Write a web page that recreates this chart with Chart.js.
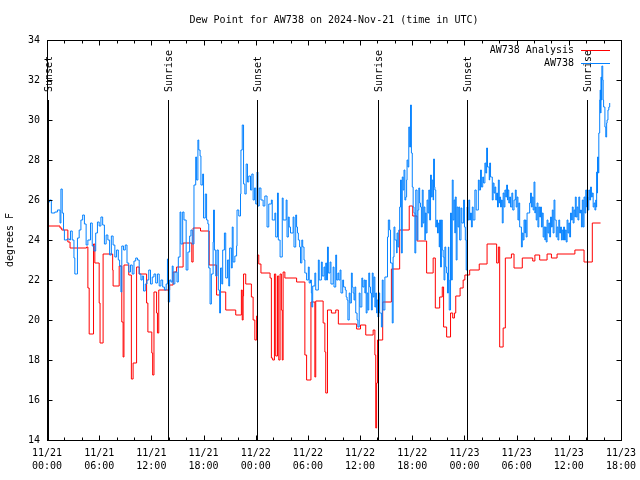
<!DOCTYPE html>
<html>
<head>
<meta charset="utf-8">
<title>Dew Point for AW738</title>
<script src="https://cdn.jsdelivr.net/npm/chart.js@4/dist/chart.umd.min.js"></script>
<style>
  html, body { margin: 0; padding: 0; background: #fff; }
</style>
</head>
<body>
<canvas id="dewChart" width="640" height="480"></canvas>
<script>
// hours since 11/21 00:00 UTC
const obsHours = [
  0.0, 0.1, 0.3, 0.5, 0.9, 1.2, 1.5, 1.6, 1.75, 1.9, 2.0, 2.3, 2.6, 2.7, 2.9, 3.1, 3.2, 3.4, 3.5, 3.7,
  3.9, 4.1, 4.3, 4.5, 4.7, 5.0, 5.2, 5.4, 5.6, 5.8, 6.0, 6.2, 6.4, 6.6, 6.8, 7.0, 7.2, 7.4, 7.6, 7.8,
  8.0, 8.2, 8.35, 8.5, 8.6, 8.8, 9.0, 9.2, 9.4, 9.6, 9.8, 10.0, 10.2, 10.4, 10.6, 10.8, 10.95, 11.1, 11.3, 11.5,
  11.7, 11.9, 12.1, 12.3, 12.5, 12.7, 12.9, 13.1, 13.3, 13.5, 13.7, 13.85, 13.95, 14.1, 14.25, 14.4, 14.5, 14.7, 14.95, 15.1,
  15.3, 15.4, 15.6, 15.75, 16.0, 16.2, 16.4, 16.55, 16.7, 16.9, 17.1, 17.2, 17.35, 17.45, 17.6, 17.7, 17.9, 18.0, 18.2, 18.35,
  18.5, 18.6, 18.75, 18.9, 19.1, 19.15, 19.25, 19.4, 19.55, 19.7, 19.85, 19.95, 20.1, 20.2, 20.4, 20.55, 20.75, 20.9, 21.0, 21.2,
  21.3, 21.4, 21.6, 21.8, 21.85, 22.05, 22.25, 22.3, 22.45, 22.6, 22.75, 22.9, 23.05, 23.2, 23.4, 23.55, 23.7, 23.85, 24.0, 24.15,
  24.25, 24.4, 24.6, 24.85, 25.05, 25.3, 25.5, 25.8, 25.9, 26.2, 26.3, 26.5, 26.6, 26.8, 27.05, 27.15, 27.5, 27.6, 27.75, 27.85,
  28.0, 28.3, 28.4, 28.6, 28.7, 28.8, 28.9, 29.05, 29.15, 29.3, 29.4, 29.55, 29.65, 29.75, 29.85, 30.05, 30.15, 30.3, 30.4, 30.45,
  30.55, 30.8, 30.9, 31.2, 31.3, 31.55, 31.65, 31.85, 31.95, 32.05, 32.15, 32.25, 32.35, 32.55, 32.65, 32.9, 33.0, 33.2, 33.3, 33.45,
  33.55, 33.7, 33.8, 34.0, 34.1, 34.3, 34.4, 34.5, 34.6, 34.75, 34.85, 35.0, 35.1, 35.2, 35.3, 35.4, 35.5, 35.65, 35.75, 35.9,
  36.0, 36.2, 36.3, 36.45, 36.55, 36.65, 36.7, 36.8, 36.9, 37.0, 37.1, 37.2, 37.3, 37.4, 37.5, 37.6, 37.7, 37.8, 37.9, 37.95,
  38.05, 38.15, 38.25, 38.35, 38.45, 38.55, 38.65, 38.85, 39.15, 39.25, 39.4, 39.5, 39.7, 39.8, 39.9, 40.0, 40.1, 40.2, 40.25, 40.35,
  40.45, 40.55, 40.65, 40.75, 40.85, 40.95, 41.05, 41.15, 41.25, 41.35, 41.4, 41.5, 41.6, 41.7, 41.8, 41.9, 42.0, 42.1, 42.2, 42.3,
  42.4, 42.55, 42.65, 42.75, 42.85, 42.95, 43.05, 43.15, 43.25, 43.35, 43.45, 43.5, 43.6, 43.7, 43.8, 43.9, 44.0, 44.1, 44.2, 44.3,
  44.4, 44.45, 44.55, 44.6, 44.7, 44.8, 44.9, 45.0, 45.1, 45.15, 45.25, 45.35, 45.45, 45.55, 45.65, 45.75, 45.85, 45.95, 46.05, 46.15,
  46.2, 46.25, 46.4, 46.5, 46.6, 46.7, 46.8, 46.9, 46.95, 47.05, 47.15, 47.25, 47.35, 47.45, 47.6, 47.7, 47.9, 48.0, 48.1, 48.2,
  48.3, 48.4, 48.5, 48.6, 48.7, 48.8, 48.9, 49.0, 49.2, 49.35, 49.6, 49.7, 49.85, 49.95, 50.1, 50.2, 50.35, 50.45, 50.55, 50.65,
  50.75, 50.85, 50.9, 51.0, 51.1, 51.2, 51.3, 51.4, 51.5, 51.6, 51.7, 51.8, 51.9, 52.0, 52.05, 52.15, 52.25, 52.35, 52.45, 52.55,
  52.65, 52.75, 52.85, 52.95, 53.0, 53.1, 53.2, 53.3, 53.45, 53.55, 53.7, 53.85, 53.95, 54.05, 54.15, 54.25, 54.35, 54.45, 54.55, 54.65,
  54.75, 54.85, 54.95, 55.0, 55.1, 55.2, 55.4, 55.5, 55.6, 55.7, 55.8, 55.9, 56.0, 56.1, 56.15, 56.25, 56.35, 56.45, 56.55, 56.65,
  56.75, 56.85, 56.95, 57.05, 57.15, 57.25, 57.3, 57.4, 57.5, 57.6, 57.7, 57.8, 57.9, 58.0, 58.1, 58.2, 58.3, 58.4, 58.45, 58.55,
  58.65, 58.75, 58.85, 58.95, 59.05, 59.15, 59.25, 59.35, 59.4, 59.5, 59.6, 59.7, 59.8, 59.9, 60.0, 60.1, 60.2, 60.3, 60.4, 60.5,
  60.6, 60.7, 60.75, 60.85, 60.95, 61.05, 61.15, 61.25, 61.35, 61.45, 61.55, 61.65, 61.75, 61.85, 61.95, 62.05, 62.1, 62.2, 62.3, 62.4,
  62.5, 62.6, 62.7, 62.8, 62.9, 63.0, 63.1, 63.15, 63.2, 63.25, 63.3, 63.4, 63.45, 63.55, 63.6, 63.65, 63.7, 63.75, 63.8, 63.9,
  63.95, 64.0, 64.05, 64.15, 64.25, 64.35, 64.4, 64.5, 64.6, 64.7
];
const obsDewPoint = [
  25.2, 25.9, 26.0, 25.35, 25.4, 25.5, 24.85, 26.55, 25.35, 24.5, 24.0, 24.05, 24.0, 24.45, 24.0, 23.1, 22.3, 22.3, 24.1, 24.5,
  25.0, 25.25, 24.8, 23.75, 24.0, 24.85, 23.7, 23.45, 24.35, 24.9, 24.7, 25.15, 24.75, 23.8, 24.25, 24.0, 23.25, 24.2, 23.75, 23.15,
  23.5, 23.0, 22.7, 21.4, 23.7, 23.5, 23.75, 22.85, 22.4, 22.75, 22.3, 22.95, 23.1, 23.0, 22.3, 22.0, 22.2, 21.45, 21.8, 22.0,
  22.5, 21.8, 22.15, 22.3, 21.85, 22.3, 21.7, 22.0, 21.65, 21.5, 21.8, 23.05, 20.9, 22.0, 21.9, 22.7, 21.8, 22.4, 21.9, 23.15,
  25.4, 23.8, 25.4, 25.0, 22.5, 23.4, 24.2, 24.5, 23.8, 26.75, 28.15, 27.0, 29.0, 28.5, 28.2, 26.75, 27.3, 25.1, 26.3, 25.0,
  24.8, 22.6, 20.8, 22.3, 23.9, 25.5, 23.5, 22.2, 23.5, 21.5, 20.35, 22.6, 21.8, 23.5, 24.35, 22.1, 23.0, 21.7, 23.6, 22.6,
  24.65, 22.9, 23.2, 23.7, 25.5, 25.2, 26.3, 28.5, 29.75, 26.8, 26.3, 27.8, 26.9, 27.2, 26.5, 27.3, 26.0, 26.6, 25.8, 27.4,
  25.7, 26.6, 26.0, 25.7, 26.2, 24.65, 25.8, 26.0, 25.0, 25.35, 24.15, 26.35, 24.0, 23.15, 26.1, 25.0, 26.0, 24.15, 25.15, 24.65,
  24.35, 25.15, 23.65, 25.25, 24.65, 24.35, 24.0, 23.65, 22.85, 24.0, 23.65, 23.0, 22.35, 22.35, 22.0, 22.65, 21.85, 22.0, 21.35, 20.65,
  21.7, 22.35, 21.5, 23.0, 22.0, 22.9, 22.2, 22.65, 22.0, 22.85, 22.0, 23.65, 22.35, 22.9, 21.8, 22.65, 21.65, 23.25, 22.0, 22.35,
  22.0, 22.5, 21.35, 22.0, 21.65, 21.5, 21.15, 21.0, 20.0, 21.35, 20.85, 22.35, 21.65, 21.35, 21.0, 21.65, 20.35, 20.0, 19.65, 21.35,
  20.65, 22.1, 21.65, 22.0, 21.35, 22.0, 20.35, 21.35, 20.5, 22.35, 21.65, 21.35, 20.5, 22.35, 21.15, 22.15, 20.65, 21.35, 20.35, 21.0,
  20.15, 21.35, 20.35, 20.35, 19.65, 22.0, 20.5, 22.15, 24.15, 25.0, 24.5, 22.85, 19.85, 23.15, 24.65, 24.0, 24.0, 23.35, 24.35, 23.65,
  24.5, 25.65, 27.0, 23.35, 27.15, 26.5, 27.5, 26.0, 26.15, 27.0, 28.0, 27.65, 29.65, 28.65, 30.75, 28.35, 26.65, 25.65, 25.35, 23.35,
  26.5, 24.0, 25.5, 26.6, 25.85, 25.65, 24.65, 26.5, 24.85, 25.65, 24.0, 25.35, 24.35, 26.0, 25.35, 26.5, 25.0, 27.25, 26.15, 27.0,
  26.0, 28.05, 26.65, 26.5, 24.65, 25.0, 24.35, 24.85, 23.65, 25.0, 22.65, 25.0, 23.5, 23.15, 22.0, 23.65, 22.65, 22.35, 21.35, 23.65,
  22.0, 20.5, 25.35, 22.0, 27.0, 25.0, 26.0, 24.35, 26.15, 23.0, 25.65, 24.65, 25.65, 24.0, 25.6, 24.85, 26.0, 24.65, 24.0, 22.5,
  25.65, 25.0, 26.0, 25.0, 25.35, 24.65, 25.65, 25.0, 26.5, 25.5, 27.0, 26.5, 27.5, 26.65, 27.15, 26.85, 27.85, 27.35, 28.6, 27.65,
  27.65, 27.0, 27.85, 27.15, 27.15, 26.0, 26.85, 26.35, 26.65, 26.0, 26.35, 25.65, 27.0, 25.85, 26.15, 25.65, 26.0, 24.85, 26.35, 25.65,
  26.5, 26.15, 26.75, 26.0, 26.5, 25.85, 26.15, 25.65, 26.35, 25.5, 26.0, 26.5, 25.65, 26.15, 25.0, 25.85, 24.65, 24.65, 23.65, 24.35,
  24.0, 25.0, 24.35, 25.0, 24.15, 25.35, 25.35, 25.85, 26.35, 25.65, 26.15, 25.5, 26.9, 25.35, 25.65, 25.0, 25.85, 24.65, 25.65, 25.15,
  25.65, 24.65, 25.35, 24.15, 24.65, 24.0, 24.65, 23.9, 25.0, 24.35, 24.85, 24.15, 25.15, 24.65, 25.5, 24.35, 26.0, 25.0, 25.0, 24.15,
  24.65, 24.0, 25.0, 24.35, 24.65, 24.0, 24.5, 24.0, 24.65, 24.0, 24.5, 23.9, 25.0, 24.35, 24.85, 24.15, 25.35, 25.0, 25.65, 24.85,
  25.5, 25.15, 26.15, 25.15, 25.65, 25.0, 26.15, 25.35, 25.5, 24.65, 26.0, 24.65, 26.15, 25.35, 26.5, 25.65, 26.15, 25.5, 26.5, 26.0,
  26.65, 26.15, 26.35, 25.65, 25.85, 25.5, 26.0, 25.65, 27.4, 26.35, 28.15, 27.35, 29.35, 31.0, 31.5, 30.35, 32.15, 31.0, 32.7, 32.0,
  31.0, 30.65, 30.65, 29.65, 29.15, 29.85, 30.0, 30.5, 30.65, 30.85
];

// analysis: each value holds until the next time
const anaHours = [
  0.0, 0.05, 1.5, 1.7, 2.4, 2.65, 4.55, 4.7, 4.85, 5.35, 5.5, 6.0, 6.1, 6.45, 7.55, 7.6, 8.3, 8.6, 8.75, 8.85,
  9.4, 9.7, 9.9, 10.3, 10.6, 11.45, 11.6, 12.05, 12.15, 12.3, 12.6, 12.7, 12.85, 14.1, 14.5, 14.9, 15.65, 16.65, 16.8, 17.65,
  18.65, 19.5, 19.9, 20.55, 21.7, 22.35, 22.45, 22.55, 22.6, 22.85, 23.5, 23.7, 23.9, 24.1, 24.2, 24.35, 24.6, 25.65, 25.8, 25.95,
  26.15, 26.3, 26.5, 26.65, 26.8, 26.95, 27.05, 27.15, 27.35, 28.7, 29.65, 29.85, 30.35, 30.8, 30.9, 31.75, 31.95, 32.05, 32.25, 32.7,
  33.2, 33.5, 35.6, 36.05, 36.65, 37.5, 37.7, 37.8, 37.9, 38.0, 38.6, 39.6, 40.55, 41.65, 42.05, 42.55, 43.65, 44.4, 44.65, 45.15,
  45.45, 45.6, 45.95, 46.4, 46.65, 46.85, 47.0, 47.5, 47.85, 48.05, 48.6, 49.7, 50.6, 51.7, 51.9, 52.05, 52.45, 52.7, 53.4, 53.7,
  54.65, 55.85, 56.1, 56.65, 57.5, 58.0, 58.65, 60.7, 61.75, 62.7, 63.65
];
const anaDewPoint = [
  19.9, 24.7, 24.6, 24.5, 23.9, 23.6, 23.65, 21.6, 19.3, 23.8, 22.85, 20.85, 18.85, 23.3, 22.5, 21.7, 22.7, 19.9, 18.15, 22.75,
  22.25, 17.05, 17.85, 22.65, 22.3, 20.85, 19.4, 18.35, 17.25, 21.4, 20.35, 19.35, 21.5, 21.75, 22.4, 22.65, 23.85, 22.9, 24.6, 24.45,
  22.75, 21.25, 21.4, 20.5, 20.25, 21.5, 20.0, 21.2, 22.3, 21.8, 21.15, 20.0, 19.0, 20.2, 23.25, 22.8, 22.35, 22.1, 18.1, 18.0,
  22.3, 18.2, 22.2, 18.0, 22.3, 20.5, 18.0, 22.4, 22.1, 21.9, 18.25, 17.0, 20.9, 17.15, 20.95, 19.85, 18.4, 16.35, 20.5, 20.35,
  20.5, 19.8, 19.55, 19.75, 19.25, 19.5, 18.25, 14.6, 16.85, 19.0, 20.9, 22.55, 24.5, 25.7, 25.2, 23.95, 22.35, 23.1, 20.6, 21.15,
  21.65, 19.65, 19.15, 20.35, 20.1, 20.35, 21.2, 21.6, 22.0, 22.25, 22.5, 22.8, 23.8, 22.85, 23.65, 18.65, 19.6, 23.1, 23.3, 22.6,
  23.1, 22.95, 23.25, 23.0, 23.3, 23.1, 23.3, 23.5, 22.9, 24.85, 24.85
];

const sunHours = [0.15, 13.97, 24.17, 38.08, 48.24, 62.1];
const sunLabels = ['Sunset', 'Sunrise', 'Sunset', 'Sunrise', 'Sunset', 'Sunrise'];
const sunLineTop = 31;

const timeLabels = [
  ['11/21', '00:00'], ['11/21', '06:00'], ['11/21', '12:00'], ['11/21', '18:00'],
  ['11/22', '00:00'], ['11/22', '06:00'], ['11/22', '12:00'], ['11/22', '18:00'],
  ['11/23', '00:00'], ['11/23', '06:00'], ['11/23', '12:00'], ['11/23', '18:00']
];

const seriesNames = ['AW738 Analysis', 'AW738'];
const seriesColors = ['#ff0000', '#0582ff'];
const chartTitle = 'Dew Point for AW738 on 2024-Nov-21 (time in UTC)';
const yTitle = 'degrees F';

const FONT = '10px "DejaVu Sans Mono", "Liberation Mono", monospace';
Chart.defaults.font.family = '"DejaVu Sans Mono", "Liberation Mono", monospace';
Chart.defaults.font.size = 10;
Chart.defaults.color = '#000';

const gnuFrame = {
  id: 'gnuFrame',
  afterDatasetsDraw(chart) {
    const { ctx, chartArea: a, scales: { x, y } } = chart;
    ctx.save();
    ctx.strokeStyle = '#000';
    ctx.fillStyle = '#000';
    ctx.lineWidth = 1;
    ctx.font = FONT;

    // sunrise / sunset markers
    const topPx = y.getPixelForValue(sunLineTop);
    sunHours.forEach((h, i) => {
      const px = Math.round(x.getPixelForValue(h)) + 0.5;
      ctx.beginPath();
      ctx.moveTo(px, topPx);
      ctx.lineTo(px, a.bottom);
      ctx.stroke();
      ctx.save();
      ctx.translate(px + 1, topPx - 8);
      ctx.rotate(-Math.PI / 2);
      ctx.textAlign = 'left';
      ctx.textBaseline = 'middle';
      ctx.fillText(sunLabels[i], 0, 0);
      ctx.restore();
    });

    // border
    const L = Math.round(a.left) + 0.5, R = Math.round(a.right) + 0.5;
    const T = Math.round(a.top) + 0.5, B = Math.round(a.bottom) + 0.5;
    ctx.strokeRect(L, T, R - L, B - T);

    // ticks, pointing inward
    ctx.beginPath();
    for (let v = y.min; v <= y.max; v += 2) {
      const py = Math.round(y.getPixelForValue(v)) + 0.5;
      ctx.moveTo(L, py); ctx.lineTo(L + 5, py);
      ctx.moveTo(R, py); ctx.lineTo(R - 5, py);
    }
    for (let h = x.min; h <= x.max; h += 2) {
      const px = Math.round(x.getPixelForValue(h)) + 0.5;
      const len = h % 6 === 0 ? 5 : 3;
      ctx.moveTo(px, B); ctx.lineTo(px, B - len);
      ctx.moveTo(px, T); ctx.lineTo(px, T + len);
    }
    ctx.stroke();

    // legend
    ctx.textAlign = 'right';
    ctx.textBaseline = 'middle';
    seriesNames.forEach((name, i) => {
      const ly = Math.round(a.top + 10 + i * 13) + 0.5;
      ctx.fillStyle = '#000';
      ctx.fillText(name, a.right - 47, ly);
      ctx.strokeStyle = seriesColors[i];
      ctx.beginPath();
      ctx.moveTo(a.right - 40, ly);
      ctx.lineTo(a.right - 11, ly);
      ctx.stroke();
    });

    // title and y label
    ctx.fillStyle = '#000';
    ctx.textAlign = 'center';
    ctx.fillText(chartTitle, (a.left + a.right) / 2, 20);
    ctx.save();
    ctx.translate(10, (a.top + a.bottom) / 2);
    ctx.rotate(-Math.PI / 2);
    ctx.fillText(yTitle, 0, 0);
    ctx.restore();

    ctx.restore();
  }
};

const ctx = document.getElementById('dewChart').getContext('2d');
new Chart(ctx, {
  type: 'line',
  data: {
    datasets: [
      {
        label: seriesNames[1],
        data: obsHours.map((h, i) => ({ x: h, y: obsDewPoint[i] })),
        borderColor: seriesColors[1],
        borderWidth: 1,
        pointRadius: 0,
        stepped: true,
        fill: false
      },
      {
        label: seriesNames[0],
        data: anaHours.map((h, i) => ({ x: h, y: anaDewPoint[i] })),
        borderColor: seriesColors[0],
        borderWidth: 1,
        pointRadius: 0,
        stepped: true,
        fill: false
      }
    ]
  },
  options: {
    responsive: false,
    animation: false,
    devicePixelRatio: 1,
    layout: { padding: { left: 0, top: 40, right: 19, bottom: 0 } },
    plugins: {
      legend: { display: false },
      title: { display: false },
      tooltip: { enabled: false }
    },
    scales: {
      x: {
        type: 'linear',
        min: 0,
        max: 66,
        grid: { display: false, drawTicks: false },
        border: { display: false },
        ticks: {
          stepSize: 6,
          autoSkip: false,
          maxRotation: 0,
          padding: 7,
          font: { lineHeight: 1.3 },
          callback: v => timeLabels[Math.round(v / 6)]
        },
        afterFit: s => { s.height = 40; s.paddingLeft = 0; s.paddingRight = 0; }
      },
      y: {
        min: 14,
        max: 34,
        grid: { display: false, drawTicks: false },
        border: { display: false },
        ticks: { stepSize: 2, padding: 7 },
        afterFit: s => { s.width = 47; s.paddingTop = 0; s.paddingBottom = 0; }
      }
    }
  },
  plugins: [gnuFrame]
});
</script>
</body>
</html>
